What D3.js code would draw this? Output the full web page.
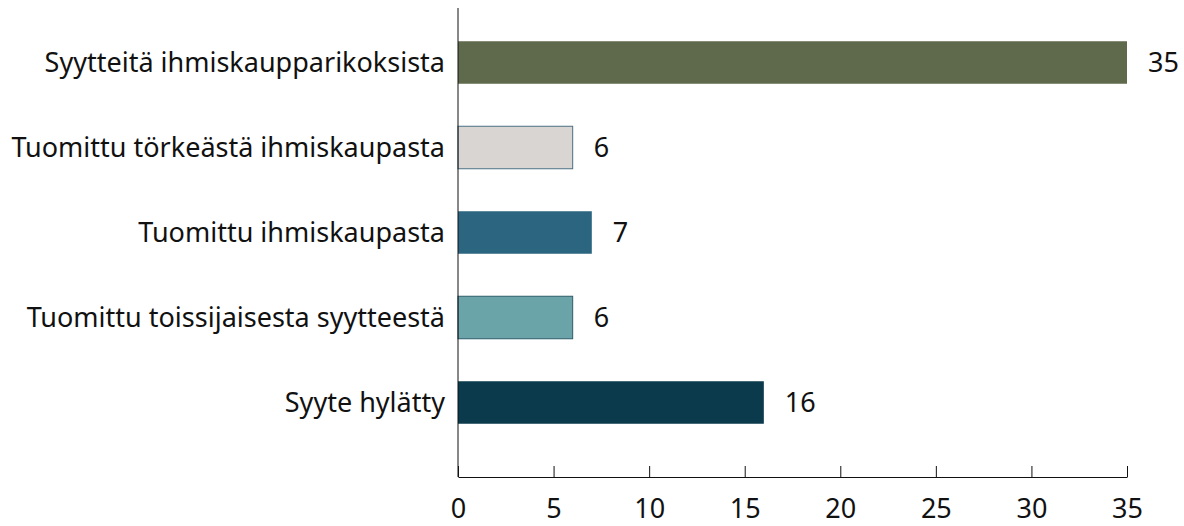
<!DOCTYPE html>
<html>
<head>
<meta charset="utf-8">
<title>ihmiskauppa</title>
<style>
  body { margin: 0; background: #fff; }
  text { font-family: "Noto Sans", "Open Sans", sans-serif; fill: #111; }
</style>
</head>
<body>
<script src="https://d3js.org/d3.v7.min.js"></script>
<script>
// data
var categories = ["Syytteitä ihmiskaupparikoksista", "Tuomittu törkeästä ihmiskaupasta",
  "Tuomittu ihmiskaupasta", "Tuomittu toissijaisesta syytteestä", "Syyte hylätty"];
var values = [35, 6, 7, 6, 16];
var fills = ["#5f694c", "#d8d5d2", "#2b6580", "#6aa3a8", "#0a3a4c"];
var strokes = ["none", "#4a6f82", "none", "#2e5d6a", "none"];
var xTicks = [0, 5, 10, 15, 20, 25, 30, 35];

var width = 1184, height = 526;
var fontFam = "'Noto Sans', 'Open Sans', sans-serif";
var svg = d3.select("body").append("svg")
  .attr("width", width).attr("height", height);

var x = d3.scaleLinear().domain([0, 35]).range([458, 1127]);
var y = d3.scaleBand().domain(categories).range([20, 445]).paddingInner(0.5).paddingOuter(0.25);

// bars
svg.selectAll("rect.bar")
  .data(values)
  .enter().append("rect")
  .attr("class", "bar")
  .attr("x", x(0))
  .attr("y", function (d, i) { return y(categories[i]); })
  .attr("width", function (d) { return x(d) - x(0); })
  .attr("height", y.bandwidth())
  .attr("fill", function (d, i) { return fills[i]; })
  .attr("stroke", function (d, i) { return strokes[i]; })
  .attr("stroke-width", 1);

// value labels
svg.selectAll("text.val")
  .data(values)
  .enter().append("text")
  .attr("class", "val")
  .attr("x", function (d) { return x(d) + 21; })
  .attr("y", function (d, i) { return y(categories[i]) + y.bandwidth() / 2; })
  .attr("dy", "0.35em")
  .attr("font-size", "27px")
  .text(function (d) { return d; });

// category labels
svg.selectAll("text.cat")
  .data(categories)
  .enter().append("text")
  .attr("class", "cat")
  .attr("x", 445)
  .attr("y", function (d) { return y(d) + y.bandwidth() / 2; })
  .attr("dy", "0.35em")
  .attr("text-anchor", "end")
  .attr("font-size", "27px")
  .text(function (d) { return d; });

// vertical axis line
svg.append("line")
  .attr("x1", x(0)).attr("x2", x(0))
  .attr("y1", 8).attr("y2", 477)
  .attr("stroke", "#111").attr("stroke-width", 1);

// x axis, ticks pointing up
var xAxis = svg.append("g")
  .attr("transform", "translate(0,477)")
  .call(d3.axisBottom(x).tickValues(xTicks).tickSizeInner(-11).tickSizeOuter(0).tickPadding(0));
xAxis.select(".domain").attr("stroke", "#111");
xAxis.selectAll(".tick line").attr("stroke", "#111");
xAxis.selectAll(".tick text")
  .attr("y", 41)
  .attr("dy", 0)
  .attr("font-size", "27px")
  .attr("font-family", fontFam)
  .attr("fill", "#111");
</script>
</body>
</html>
